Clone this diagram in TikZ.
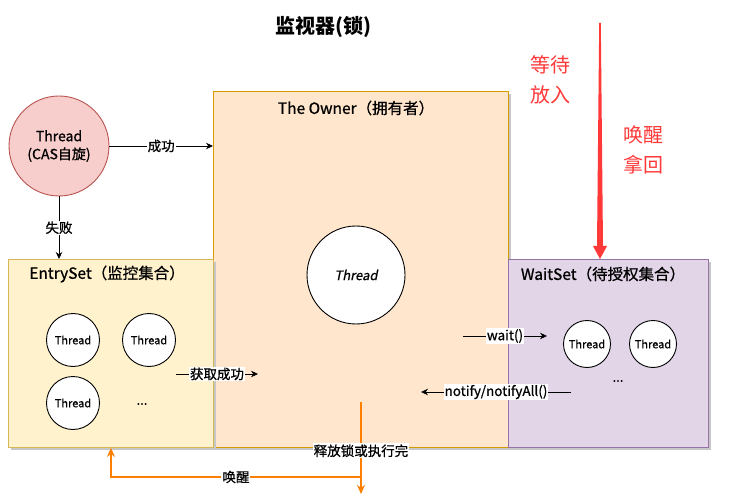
\documentclass[tikz,border=0pt]{standalone}
\usepackage{fontspec}
\setmainfont{Noto Sans CJK SC}
\newfontfamily\heavyfont{Noto Sans CJK SC}[FakeBold=0.8]
\newfontfamily\slantfont{Noto Sans CJK SC}[FakeBold=0.8, FakeSlant=0.2]
\usetikzlibrary{arrows.meta,positioning,shadows}
\definecolor{ownerfill}{HTML}{FFE6CC}
\definecolor{ownerborder}{HTML}{D79B00}
\definecolor{entryfill}{HTML}{FFF2CC}
\definecolor{entryborder}{HTML}{D6B656}
\definecolor{waitfill}{HTML}{E1D5E7}
\definecolor{waitborder}{HTML}{9673A6}
\definecolor{casfill}{HTML}{F8CECC}
\definecolor{casborder}{HTML}{B85450}
\definecolor{wakeorange}{HTML}{FF8000}
\definecolor{hintred}{HTML}{FF3838}

\begin{document}
\begin{tikzpicture}[
  x=1pt, y=-1pt,
  setbox/.style={rectangle, anchor=north west, inner sep=0pt, line width=0.9pt, drop shadow={shadow xshift=2.5pt, shadow yshift=-2.5pt, fill=black!22, opacity=1}},
  settitle/.style={font=\heavyfont\fontsize{15.5}{18}\selectfont},
  thread/.style={circle, draw, fill=white, line width=0.9pt, minimum size=53pt, inner sep=0pt, font=\heavyfont\fontsize{11}{13}\selectfont},
  dots/.style={font=\heavyfont\fontsize{13}{15}\selectfont},
  lbl/.style={fill=white, inner sep=1pt, font=\heavyfont\fontsize{13.5}{15}\selectfont},
  hint/.style={align=center, text=hintred, font=\fontsize{20}{30}\selectfont},
  arrow/.style={-{Stealth[length=7pt, width=6.5pt]}, line width=0.8pt},
  wakearrow/.style={-{Stealth[length=9pt, width=8pt]}, line width=1.6pt, draw=wakeorange}
]
\useasboundingbox (0,0) rectangle (731,497);

\node[font=\bfseries\fontsize{20}{24}\selectfont] (title) at (323,27) {监视器(锁)};

\node[setbox, draw=ownerborder, fill=ownerfill, minimum width=295pt, minimum height=356pt] (owner) at (213,91) {};
\node[setbox, draw=entryborder, fill=entryfill, minimum width=205pt, minimum height=188pt] (entry) at (8,259) {};
\node[setbox, draw=waitborder, fill=waitfill, minimum width=200pt, minimum height=188pt] (wait) at (508,259) {};

\node[settitle] (ownertitle) at (356,108) {The Owner（拥有者）};
\node[settitle] (entrytitle) at (107,274) {EntrySet（监控集合）};
\node[settitle] (waittitle) at (603,274) {WaitSet（待授权集合）};

\node[circle, draw=casborder, fill=casfill, line width=0.9pt, minimum size=100pt, inner sep=0pt, align=center, font=\heavyfont\fontsize{14}{18}\selectfont] (cas) at (59,146) {Thread\\(CAS自旋)};

\node[thread, minimum size=98pt, font=\slantfont\fontsize{13}{15}\selectfont] (ownerthread) at (356,275) {Thread};

\node[thread] (entryone) at (73,340) {Thread};
\node[thread] (entrytwo) at (149,340) {Thread};
\node[thread] (entrythree) at (73,403) {Thread};
\node[dots] (entrydots) at (142,404) {...};

\node[thread, minimum size=47pt] (waitone) at (587,344) {Thread};
\node[thread, minimum size=47pt] (waittwo) at (653,344) {Thread};
\node[dots] (waitdots) at (618,381) {...};

\node[hint] (putin) at (550,80) {等待\\放入};
\node[hint] (takeback) at (643,150) {唤醒\\拿回};

\coordinate (redtop) at (600,23);
\coordinate (redtip) at (wait.north -| redtop);
\fill[hintred] (599.2,23) -- (600.8,23) -- (603,246) -- (607,246) -- (redtip) -- (593,246) -- (597,246) -- cycle;

\coordinate (getfrom) at (176,374);
\coordinate (getto) at (258,374);
\coordinate (waitfrom) at (463,336);
\coordinate (waitto) at (547,336);
\coordinate (notifyfrom) at (571,392);
\coordinate (notifyto) at (421,392);
\coordinate (releasefrom) at (361,402);
\coordinate (releaseto) at (361,494);
\coordinate (wakefrom) at (361,477);

\draw[arrow] (cas.east) -- node[lbl] {成功} (cas.east -| owner.west);
\draw[arrow] (cas.south) -- node[lbl] {失败} (cas.south |- entry.north);
\draw[arrow] (getfrom) -- node[lbl] {获取成功} (getto);
\draw[arrow] (waitfrom) -- node[lbl] {wait()} (waitto);
\draw[arrow] (notifyfrom) -- node[lbl] {notify/notifyAll()} (notifyto);
\draw[wakearrow] (releasefrom) -- node[lbl, pos=0.53] {释放锁或执行完} (releaseto);
\draw[wakearrow] (wakefrom) -- node[lbl] {唤醒} (wakefrom -| entry.south) -- (entry.south);

\end{tikzpicture}
\end{document}
